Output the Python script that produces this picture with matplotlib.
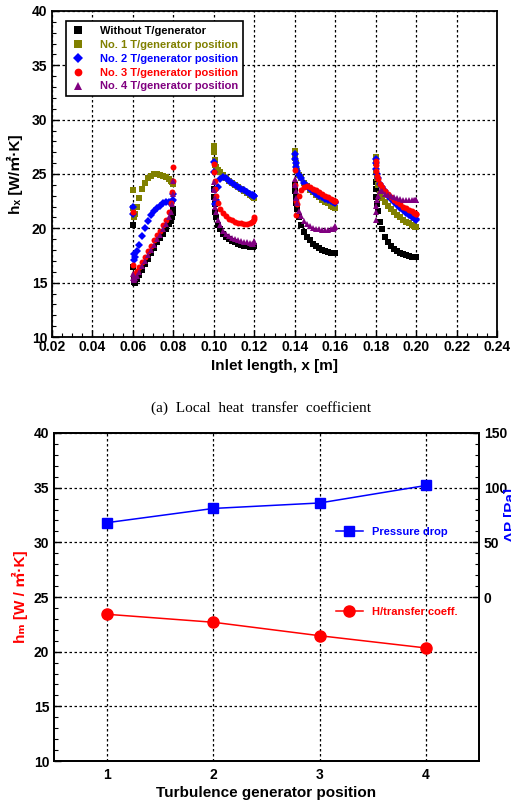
# -*- coding:utf-8 -*-
import matplotlib
matplotlib.use("Agg")
import matplotlib.pyplot as plt
from matplotlib.ticker import MultipleLocator, FixedLocator

plt.rcParams['font.family'] = ['Liberation Sans', 'Noto Sans CJK SC', 'DejaVu Sans']
plt.rcParams['font.weight'] = 'bold'
plt.rcParams['axes.labelweight'] = 'bold'

# 测点位置 (每段加热面)
X1 = [0.0600, 0.0602, 0.0604, 0.0607, 0.0610, 0.0620, 0.0630, 0.0645, 0.0660, 0.0675, 0.0690,
      0.0705, 0.0720, 0.0735, 0.0750, 0.0765, 0.0780, 0.0790, 0.0795, 0.0798, 0.0800]
X2 = [0.1000, 0.1002, 0.1004, 0.1007, 0.1010, 0.1020, 0.1030, 0.1045, 0.1060, 0.1075, 0.1090,
      0.1105, 0.1120, 0.1135, 0.1150, 0.1165, 0.1180, 0.1190, 0.1195, 0.1198, 0.1200]
X3 = [0.1400, 0.1402, 0.1404, 0.1407, 0.1410, 0.1420, 0.1430, 0.1445, 0.1460, 0.1475, 0.1490,
      0.1505, 0.1520, 0.1535, 0.1550, 0.1565, 0.1580, 0.1590, 0.1595, 0.1598, 0.1600]
X4 = [0.1800, 0.1802, 0.1804, 0.1807, 0.1810, 0.1820, 0.1830, 0.1845, 0.1860, 0.1875, 0.1890,
      0.1905, 0.1920, 0.1935, 0.1950, 0.1965, 0.1980, 0.1990, 0.1995, 0.1998, 0.2000]

# 局部换热系数 h_x
H_WITHOUT = [
    [20.3, 16.4, 15.4, 15.1, 15.0, 15.3, 15.7, 16.2, 16.7, 17.2, 17.7,
     18.2, 18.7, 19.1, 19.5, 19.9, 20.4, 20.7, 21.0, 21.4, 21.8],
    [23.6, 22.9, 22.2, 21.5, 21.0, 20.3, 19.9, 19.5, 19.2, 19.0, 18.85,
     18.7, 18.6, 18.5, 18.4, 18.35, 18.3, 18.25, 18.3, 18.35, 18.4],
    [24.0, 23.4, 22.9, 22.3, 21.8, 21.0, 20.3, 19.7, 19.2, 18.9, 18.6,
     18.4, 18.2, 18.05, 17.95, 17.85, 17.75, 17.7, 17.7, 17.7, 17.75],
    [24.3, 23.6, 22.9, 22.2, 21.6, 20.6, 19.9, 19.2, 18.7, 18.35, 18.1,
     17.9, 17.75, 17.6, 17.5, 17.45, 17.4, 17.35, 17.35, 17.35, 17.4],
]
H_NO1 = [
    [23.5, 21.9, 21.2, 21.0, 21.3, 22.0, 22.8, 23.6, 24.2, 24.6, 24.85,
     25.0, 25.0, 24.95, 24.85, 24.7, 24.5, 24.4, 24.3, 24.2, 24.1],
    [27.6, 27.0, 26.3, 25.8, 25.6, 25.4, 25.2, 24.9, 24.6, 24.4, 24.2,
     24.0, 23.8, 23.6, 23.4, 23.25, 23.1, 23.0, 22.9, 22.85, 22.8],
    [27.1, 26.5, 26.0, 25.6, 25.3, 24.9, 24.6, 24.2, 23.85, 23.55, 23.3,
     23.05, 22.85, 22.65, 22.45, 22.3, 22.1, 22.0, 21.95, 21.9, 21.85],
    [26.6, 26.0, 25.3, 24.6, 24.0, 23.2, 22.8, 22.4, 22.1, 21.8, 21.5,
     21.25, 21.0, 20.8, 20.6, 20.45, 20.3, 20.2, 20.15, 20.1, 20.1],
]
H_NO2 = [
    [22.0, 21.3, 17.6, 17.1, 17.4, 17.9, 18.5, 19.3, 20.0, 20.7, 21.2,
     21.6, 21.9, 22.1, 22.3, 22.4, 22.4, 22.3, 22.5, 22.6, 23.2],
    [26.1, 25.2, 23.5, 22.2, 22.6, 23.8, 24.5, 24.7, 24.6, 24.4, 24.2,
     24.0, 23.8, 23.65, 23.5, 23.35, 23.2, 23.1, 23.05, 23.0, 23.0],
    [26.8, 26.4, 26.0, 25.6, 25.3, 24.9, 24.6, 24.2, 23.9, 23.6, 23.4,
     23.2, 23.0, 22.85, 22.7, 22.6, 22.5, 22.45, 22.4, 22.4, 22.35],
    [26.4, 26.0, 25.5, 25.0, 24.6, 24.1, 23.8, 23.4, 23.0, 22.7, 22.4,
     22.15, 21.9, 21.65, 21.45, 21.25, 21.05, 20.95, 20.9, 20.85, 20.8],
]
H_NO3 = [
    [21.5, 16.6, 15.8, 15.6, 15.8, 16.1, 16.4, 16.9, 17.4, 17.9, 18.4,
     18.9, 19.4, 19.8, 20.3, 20.8, 21.5, 22.3, 23.3, 24.4, 25.6],
    [25.9, 25.2, 24.4, 23.6, 23.0, 22.3, 21.8, 21.4, 21.1, 20.9, 20.75,
     20.6, 20.5, 20.45, 20.4, 20.4, 20.45, 20.55, 20.7, 20.85, 21.0],
    [25.4, 24.0, 22.5, 21.2, 22.2, 23.0, 23.5, 23.8, 23.85, 23.8, 23.65,
     23.5, 23.3, 23.15, 23.0, 22.85, 22.7, 22.6, 22.55, 22.5, 22.5],
    [26.2, 25.8, 25.3, 24.8, 24.5, 24.1, 23.8, 23.45, 23.15, 22.9, 22.65,
     22.4, 22.2, 22.0, 21.85, 21.7, 21.55, 21.45, 21.4, 21.35, 21.3],
]
H_NO4 = [
    [15.8, 15.4, 15.2, 15.3, 15.4, 15.6, 16.0, 16.5, 17.0, 17.5, 18.0,
     18.5, 19.0, 19.4, 19.9, 20.4, 21.0, 21.5, 22.2, 23.2, 24.4],
    [24.3, 23.5, 22.8, 22.0, 21.5, 20.8, 20.3, 19.8, 19.5, 19.3, 19.15,
     19.0, 18.9, 18.8, 18.75, 18.7, 18.65, 18.6, 18.6, 18.7, 18.8],
    [24.5, 24.0, 23.4, 22.8, 22.3, 21.6, 21.1, 20.7, 20.4, 20.2, 20.05,
     19.95, 19.9, 19.85, 19.85, 19.85, 19.9, 19.95, 20.05, 20.15, 20.25],
    [20.8, 21.5, 22.1, 22.6, 23.0, 23.4, 23.4, 23.2, 23.05, 22.95, 22.85,
     22.75, 22.7, 22.65, 22.6, 22.6, 22.6, 22.6, 22.6, 22.65, 22.65],
]

# 平均换热系数与压降
POSITIONS = [1, 2, 3, 4]
H_MEAN = [23.42, 22.69, 21.46, 20.34]
DELTA_P = [68, 81, 86, 102]

SERIES = [
    ("Without T/generator", H_WITHOUT, "black", "s"),
    ("No. 1 T/generator position", H_NO1, "#808000", "s"),
    ("No. 2 T/generator position", H_NO2, "#0000ff", "D"),
    ("No. 3 T/generator position", H_NO3, "#ff0000", "o"),
    ("No. 4 T/generator position", H_NO4, "#800080", "^"),
]

GRID = dict(color="black", linestyle=(0, (2, 2)), linewidth=0.9)


def style_axis(ax):
    ax.tick_params(which="both", direction="in", labelsize=10)
    ax.tick_params(which="major", length=5, width=1)
    ax.tick_params(which="minor", length=3, width=0.8)
    for s in ax.spines.values():
        s.set_linewidth(1.3)


def plot_local(ax):
    xs = [X1, X2, X3, X4]
    for label, ys, color, marker in SERIES:
        for i in range(4):
            ax.plot(xs[i], ys[i], linestyle="none", marker=marker, color=color,
                    markersize=4.3, markeredgewidth=0, label=label if i == 0 else None)
    ax.set_xlim(0.02, 0.24)
    ax.set_ylim(10, 40)
    ax.xaxis.set_major_locator(MultipleLocator(0.02))
    ax.xaxis.set_minor_locator(MultipleLocator(0.005))
    ax.yaxis.set_major_locator(MultipleLocator(5))
    ax.yaxis.set_minor_locator(MultipleLocator(1))
    ax.set_xticklabels(["%.2f" % v for v in ax.get_xticks()])
    ax.grid(True, which="major", **GRID)
    style_axis(ax)
    ax.tick_params(top=False, right=False, which="both")
    ax.tick_params(axis="x", pad=2)
    ax.set_xlabel("Inlet length, x [m]", fontsize=11, labelpad=4)
    ax.set_ylabel("hₓ [W/㎡·K]", fontsize=11, labelpad=6)
    leg = ax.legend(loc="upper left", bbox_to_anchor=(0.02, 0.985), fontsize=8,
                    frameon=True, fancybox=False, edgecolor="black", framealpha=1,
                    handlelength=1.2, handletextpad=1.4, labelspacing=0.35,
                    borderpad=0.4, markerscale=1.3)
    leg.get_frame().set_linewidth(1.2)
    for txt, (_, _, color, _) in zip(leg.get_texts(), SERIES):
        txt.set_color(color)
        txt.set_fontweight("bold")


def plot_mean(ax):
    ax.plot(POSITIONS, H_MEAN, color="red", marker="o", markersize=8, linewidth=1.1,
            label="H/transfer coeff.")
    ax.set_xlim(0.5, 4.5)
    ax.set_ylim(10, 40)
    ax.set_xticks(POSITIONS)
    ax.yaxis.set_major_locator(MultipleLocator(5))
    ax.yaxis.set_minor_locator(MultipleLocator(1))
    ax.grid(True, which="major", **GRID)
    style_axis(ax)
    ax.tick_params(axis="x", length=0, pad=5)
    ax.tick_params(top=False, right=False, which="both")
    ax.set_xlabel("Turbulence generator position", fontsize=11, labelpad=3)
    ax.set_ylabel("hₘ [W / ㎡·K]", fontsize=11, color="red", labelpad=4)
    leg1 = ax.legend(loc="center left", bbox_to_anchor=(0.64, 0.454), frameon=False,
                     fontsize=8, handlelength=2.4, handletextpad=0.8)
    leg1.get_texts()[0].set_color("red")

    ax2 = ax.twinx()
    ax2.plot(POSITIONS, DELTA_P, color="blue", marker="s", markersize=7, linewidth=1.1,
             label="Pressure drop")
    ax2.set_ylim(-150, 150)
    ax2.yaxis.set_major_locator(FixedLocator([0, 50, 100, 150]))
    ax2.yaxis.set_minor_locator(FixedLocator(list(range(0, 151, 10))))
    style_axis(ax2)
    ax2.set_ylabel("ΔP [Pa]", fontsize=11, color="blue")
    ax2.yaxis.set_label_coords(1.058, 0.75)
    leg2 = ax2.legend(loc="center left", bbox_to_anchor=(0.64, 0.698), frameon=False,
                      fontsize=8, handlelength=2.4, handletextpad=0.8)
    leg2.get_texts()[0].set_color("blue")


def main():
    fig = plt.figure(figsize=(5.11, 8.02), dpi=100)
    ax1 = fig.add_axes([0.1018, 0.5798, 0.8708, 0.4065])
    plot_local(ax1)
    fig.text(0.511, 0.491, "(a)  Local  heat  transfer  coefficient", ha="center", va="center",
             fontsize=11, family="Liberation Serif", fontweight="normal")
    ax3 = fig.add_axes([0.1057, 0.0511, 0.8317, 0.409])
    plot_mean(ax3)
    fig.savefig("out.png", dpi=100)


if __name__ == '__main__':
    main()
